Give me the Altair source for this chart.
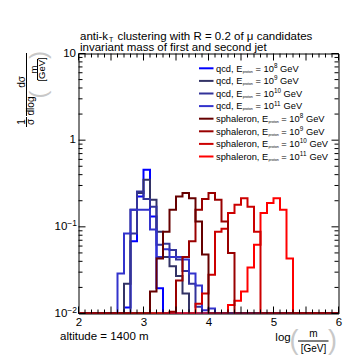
import altair as alt
import pandas as pd
import numpy as np

# ---------------- data ----------------
x_min, x_max, bin_w = 2.0, 6.0, 0.1
n_bins = 40

series_names = ["qcd8", "qcd9", "qcd10", "qcd11", "sph8", "sph9", "sph10", "sph11"]
series_start = [2.7, 2.7, 2.8, 2.6, 3.1, 3.4, 3.8, 4.3]
qcd8 = [0.0117, 0.068, 0.224, 0.455, 0.132, 0.0195]
qcd9 = [0.022, 0.157, 0.245, 0.35, 0.205, 0.088, 0.045, 0.035, 0.027, 0.017]
qcd10 = [0.084, 0.256, 0.21, 0.17, 0.062, 0.064, 0.054, 0.042, 0.031, 0.022, 0.012]
qcd11 = [0.029, 0.084, 0.157, 0.157, 0.157, 0.093, 0.045, 0.055, 0.045, 0.045,
         0.042, 0.029, 0.021, 0.0109, 0.0114]
sph8 = [0.018, 0.043, 0.088, 0.157, 0.224, 0.245, 0.214, 0.115, 0.048]
sph9 = [0.0105, 0.024, 0.045, 0.068, 0.157, 0.21, 0.245, 0.205, 0.115, 0.05]
sph10 = [0.013, 0.017, 0.028, 0.088, 0.095, 0.144, 0.18, 0.213, 0.171, 0.088]
sph11 = [0.0125, 0.014, 0.018, 0.034, 0.062, 0.144, 0.188, 0.213, 0.157, 0.043]
series_values = [qcd8, qcd9, qcd10, qcd11, sph8, sph9, sph10, sph11]
series_colors = ["#0000ff", "#333366", "#333399", "#3333cc",
                 "#660000", "#990000", "#cc0000", "#ff0000"]
legend_kind = ["qcd", "qcd", "qcd", "qcd", "sphaleron", "sphaleron", "sphaleron", "sphaleron"]
legend_exp = ["8", "9", "10", "11", "8", "9", "10", "11"]

x_tick_labels = [2, 2.5, 3, 3.5, 4, 4.5, 5, 5.5, 6]
y_domain = [0.01, 10]

# ---------------- geometry ----------------
OX, OY = 78.5, 53.5          # page position of plot origin
W, H = 260, 260
FONT = "Liberation Sans"

CW = {' ': 278, ',': 278, '-': 333, '.': 278, '=': 584, '\u2212': 584, '[': 278, ']': 278,
      'E': 667, 'G': 778, 'R': 722, 'T': 611, 'V': 667,
      'a': 556, 'b': 556, 'c': 500, 'd': 556, 'e': 556, 'f': 278, 'g': 556, 'h': 556,
      'i': 222, 'j': 222, 'k': 500, 'l': 222, 'm': 833, 'n': 556, 'o': 556, 'p': 556,
      'q': 556, 'r': 333, 's': 500, 't': 278, 'u': 556, 'v': 500, 'w': 722, 'x': 500,
      'y': 500, 'z': 500, '\u03bc': 576, '\u03c3': 600}


def tw(s, size):
    return sum(CW.get(c, 556) for c in s) / 1000.0 * size


one = alt.Data(values=[{}])


def txt(text, x, y, size, align="left", baseline="alphabetic", angle=0, color="black"):
    # SVG drops leading blanks: shift instead
    if align == "left":
        stripped = text.lstrip(" ")
        x += tw(text[: len(text) - len(stripped)], size)
        text = stripped
    kw = dict(text=text, font=FONT, fontSize=size, align=align, baseline=baseline, color=color)
    if angle:
        kw["angle"] = angle
    return alt.Chart(one).mark_text(**kw).encode(x=alt.value(x - OX), y=alt.value(y - OY))


def seg(x1, y1, x2, y2, color="black", width=1):
    return alt.Chart(one).mark_rule(color=color, strokeWidth=width).encode(
        x=alt.value(x1 - OX), y=alt.value(y1 - OY), x2=alt.value(x2 - OX), y2=alt.value(y2 - OY))


# ---------------- histogram table ----------------
rows = []
for name, start, vals in zip(series_names, series_start, series_values):
    full = [0.0] * n_bins
    k0 = int(round((start - x_min) / bin_w))
    for i, v in enumerate(vals):
        full[k0 + i] = v
    for k in range(n_bins):
        rows.append({"series": name, "x": round(x_min + k * bin_w, 2), "v": full[k]})
    rows.append({"series": name, "x": x_max, "v": full[-1]})
hist = pd.DataFrame(rows)

xscale = alt.Scale(domain=[x_min, x_max], nice=False, zero=False)
yscale = alt.Scale(type="log", domain=y_domain, nice=False)

layers = []
draw_order = ["qcd8", "qcd9", "qcd10", "qcd11", "sph11", "sph10", "sph9", "sph8"]
first = True
for name in draw_order:
    col = series_colors[series_names.index(name)]
    if first:
        xenc = alt.X("x:Q", scale=xscale, title=None,
                     axis=alt.Axis(values=x_tick_labels, format="~g", ticks=False, domain=False,
                                   grid=False, labelFont=FONT, labelFontSize=11.5,
                                   labelColor="black", labelPadding=3, labelFlush=False,
                                   labelOverlap=False))
        first = False
    else:
        xenc = alt.X("x:Q", scale=xscale, title=None)
    layers.append(
        alt.Chart(hist[hist.series == name])
        .transform_calculate(y="max(datum.v, 0.01)")
        .mark_line(interpolate="step-after", clip=True, color=col, strokeWidth=2)
        .encode(x=xenc, y=alt.Y("y:Q", scale=yscale, axis=None, title=None))
    )

# ---------------- ticks (ROOT style, inside the frame) ----------------
xt = np.round(np.arange(2.0, 6.0001, 0.1), 2)
x_major = pd.DataFrame({"x": [t for t in xt if abs(t * 2 - round(t * 2)) < 1e-6]})
x_minor = pd.DataFrame({"x": [t for t in xt if abs(t * 2 - round(t * 2)) >= 1e-6]})
for df, L in [(x_major, 7), (x_minor, 4)]:
    for y0, y1 in [(H, H - L), (0, L)]:
        layers.append(alt.Chart(df).mark_rule(color="black", strokeWidth=1).encode(
            x=alt.X("x:Q", scale=xscale, title=None), y=alt.value(y0), y2=alt.value(y1)))

y_major = pd.DataFrame({"y": [0.01, 0.1, 1, 10]})
y_minor = pd.DataFrame({"y": [m * 10.0 ** e for e in (-2, -1, 0) for m in range(2, 10)]})
for df, L in [(y_major, 7), (y_minor, 4)]:
    for x0, x1 in [(0, L), (W, W - L)]:
        layers.append(alt.Chart(df).mark_rule(color="black", strokeWidth=1).encode(
            y=alt.Y("y:Q", scale=yscale, axis=None, title=None), x=alt.value(x0), x2=alt.value(x1)))

# y tick labels
lab_plain = pd.DataFrame({"y": [10, 1], "t": ["10", "1"]})
lab_pow = pd.DataFrame({"y": [0.1, 0.01], "t": ["10", "10"], "s": ["\u22121", "\u22122"]})
sup_size = 8.5
sup_w = tw("\u22121", sup_size)
layers.append(alt.Chart(lab_plain).mark_text(font=FONT, fontSize=11.5, align="right", baseline="middle", color="black")
              .encode(y=alt.Y("y:Q", scale=yscale, axis=None, title=None), x=alt.value(-2.5), text="t:N"))
layers.append(alt.Chart(lab_pow).mark_text(font=FONT, fontSize=11.5, align="right", baseline="middle", color="black")
              .encode(y=alt.Y("y:Q", scale=yscale, axis=None, title=None), x=alt.value(-1.5 - sup_w), text="t:N"))
layers.append(alt.Chart(lab_pow).mark_text(font=FONT, fontSize=sup_size, align="right", baseline="middle",
                                           color="black", dy=-4)
              .encode(y=alt.Y("y:Q", scale=yscale, axis=None, title=None), x=alt.value(-1.5), text="s:N"))

# ---------------- title ----------------
TS = 11.5
x0 = 80
p1 = "anti-k"
layers.append(txt(p1, x0, 39.5, TS))
xs = x0 + tw(p1, TS)
layers.append(txt("T", xs + 1.0, 41.5, 7))
xs += tw("T", 7) + 1.8
layers.append(txt(" clustering with R = 0.2 of \u03bc candidates", xs, 39.5, TS))
layers.append(txt("invariant mass of first and second jet", x0, 50.5, TS))

# ---------------- legend ----------------
LS = 9.3
for i, name in enumerate(series_names):
    yc = 68.3 + i * 12.6
    col = series_colors[i]
    layers.append(seg(199, yc, 213.5, yc, color=col, width=2))
    xb = 216
    yb = yc + 3.3
    s1 = legend_kind[i] + ", E"
    layers.append(txt(s1, xb, yb, LS))
    xb += tw(s1, LS) + 0.3
    layers.append(txt("proton", xb, yb + 1.0, 3.6))
    xb += tw("proton", 3.6)
    s3 = " = 10"
    layers.append(txt(s3, xb, yb, LS))
    xb += tw(s3, LS) + 0.2
    layers.append(txt(legend_exp[i], xb, yb - 3.8, 6.3))
    xb += tw(legend_exp[i], 6.3)
    layers.append(txt(" GeV", xb, yb, LS))

# ---------------- axis titles ----------------
# x axis: log( m / [GeV] )
layers.append(txt("log", 283, 341, 11.5, align="center"))
layers.append(txt("(", 294, 341, 27, align="center", baseline="middle", color="#c8c8c8"))
layers.append(txt("m", 313.5, 337, 10, align="center"))
layers.append(seg(298, 341, 328.5, 341))
layers.append(txt("[GeV]", 313.5, 351.5, 10, align="center"))
layers.append(txt(")", 332.5, 341, 27, align="center", baseline="middle", color="#c8c8c8"))
layers.append(txt("altitude = 1400 m", 60, 340, 11.5))

# y axis: 1/sigma dsigma / dlog( m / [GeV] ), rotated
layers.append(txt("1", 22, 122, 10, align="center", baseline="middle", angle=270))
layers.append(seg(26.5, 117, 26.5, 127))
layers.append(txt("\u03c3", 30.5, 122, 10, align="center", baseline="middle", angle=270))
layers.append(txt("d\u03c3", 21.5, 82, 10, align="center", baseline="middle", angle=270))
layers.append(seg(26.5, 53, 26.5, 116))
layers.append(txt("dlog", 31, 106, 10, align="center", baseline="middle", angle=270))
layers.append(txt("(", 38.5, 94.5, 24, align="center", baseline="middle", angle=270, color="#c8c8c8"))
layers.append(txt("m", 34, 69.5, 9.5, align="center", baseline="middle", angle=270))
layers.append(seg(37.5, 59, 37.5, 80))
layers.append(txt("[GeV]", 41.5, 69.5, 9.5, align="center", baseline="middle", angle=270))
layers.append(txt(")", 38.5, 55, 24, align="center", baseline="middle", angle=270, color="#c8c8c8"))

chart = (
    alt.layer(*layers)
    .properties(width=W, height=H, autosize=alt.AutoSizeParams(type="none"),
                padding={"left": OX - 8, "top": OY - 8, "right": 10, "bottom": 46},
                background="white")
    .configure_view(stroke="black", strokeWidth=1)
)

chart.save("out.html", embed_options={"renderer": "svg", "actions": False})
